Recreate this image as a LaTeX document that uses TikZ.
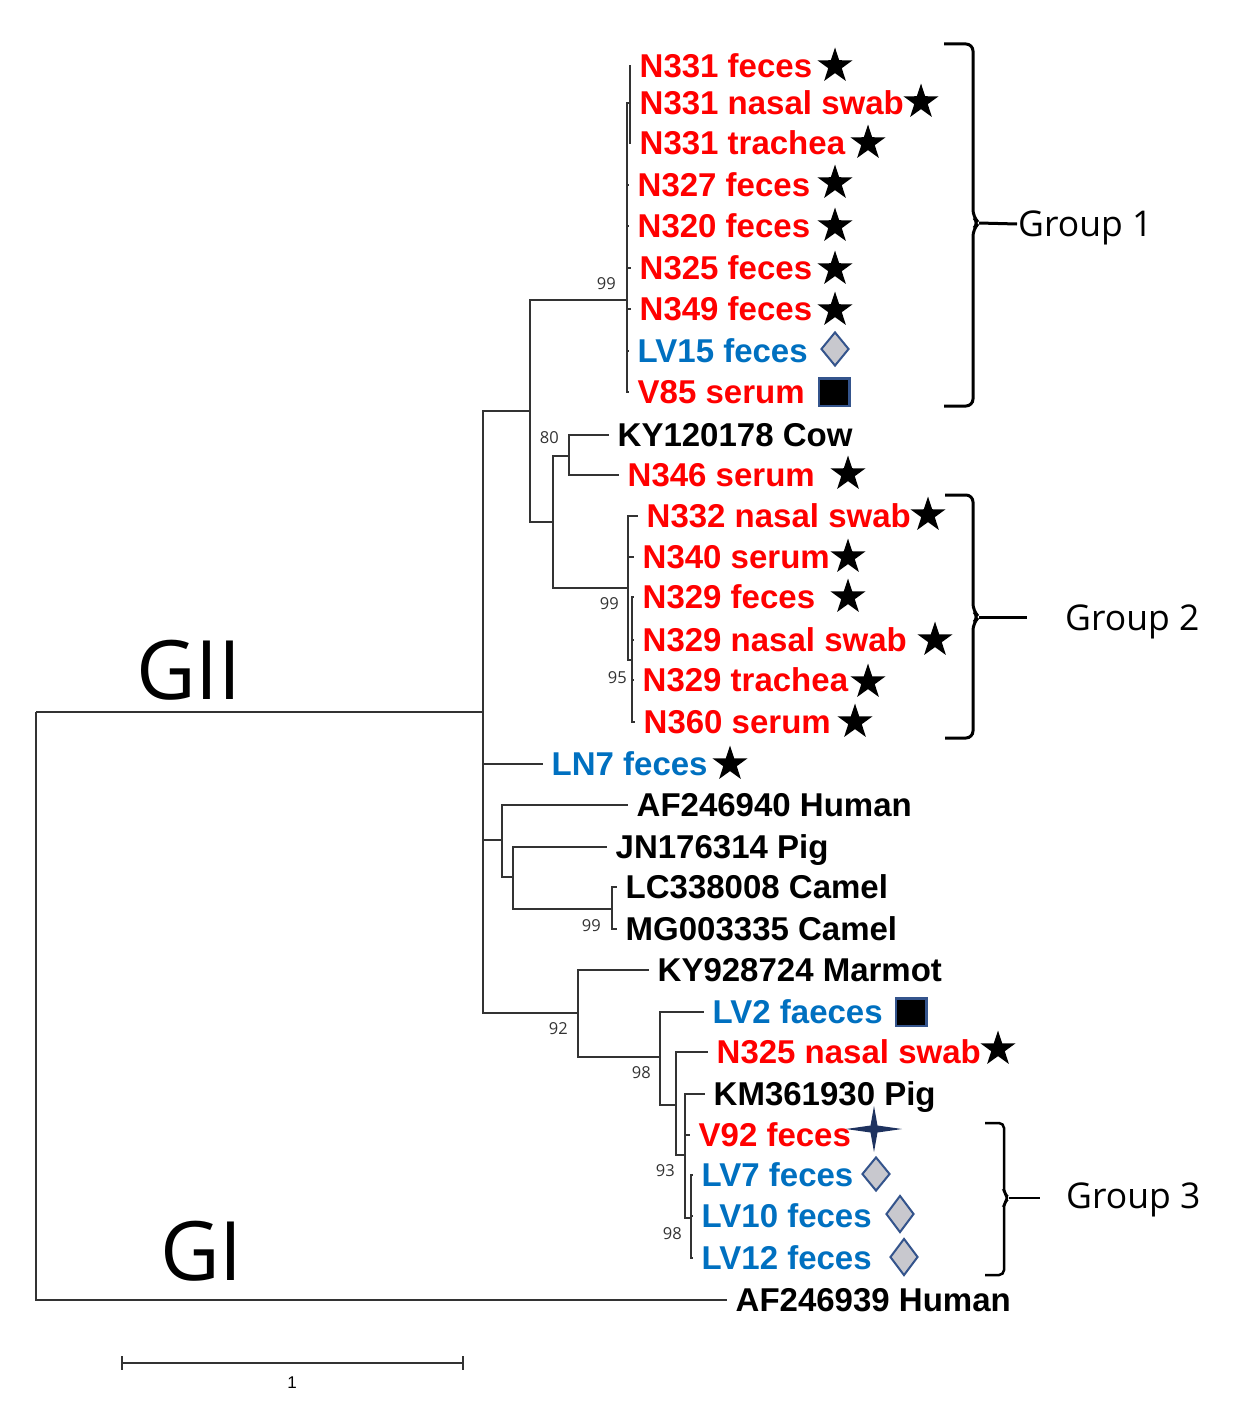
\documentclass[tikz,border=0pt]{standalone}
\usepackage{fontspec}
\setmainfont{Liberation Sans}
\newfontfamily\grpfont{Open Sans}
\usetikzlibrary{positioning,shapes.geometric}
\definecolor{labred}{RGB}{255,0,0}
\definecolor{labblue}{RGB}{0,112,192}
\definecolor{markblue}{RGB}{52,84,140}
\definecolor{markgray}{RGB}{200,200,206}
\definecolor{navy}{RGB}{30,50,95}

\begin{document}
\begin{tikzpicture}[x=1pt,y=-1pt,
  branch/.style={line width=1.4pt, black!80},
  leaf/.style={anchor=west, font=\fontsize{33}{33}\selectfont\bfseries, inner xsep=8.5pt, inner ysep=0pt, text height=23.6pt, text depth=0pt},
  boot/.style={font=\grpfont\fontsize{16.5}{16.5}\selectfont, text=black!80, inner sep=1pt},
  mstar/.style={star, star points=5, star point ratio=2.6, fill=black, inner sep=0pt, minimum size=37pt},
  mdiam/.style={diamond, draw=markblue, fill=markgray, line width=2pt, inner sep=0pt, minimum width=28pt, minimum height=34pt},
  msq/.style={rectangle, draw=markblue, fill=black, line width=2.5pt, inner sep=0pt, minimum width=30.5pt, minimum height=27.5pt},
  brk/.style={line width=3pt, rounded corners=7pt},
  grp/.style={anchor=west, font=\grpfont\fontsize{35.5}{35.5}\selectfont, inner xsep=1pt, inner ysep=0pt, text height=25pt, text depth=0pt}
]
\useasboundingbox (0,0) rectangle (1235,1405);

% internal nodes of the tree
\coordinate (root) at (36,712);
\coordinate (nGII) at (483,712);
\coordinate (nA) at (530,411);
\coordinate (nG1) at (627,300);
\coordinate (nN331) at (630,103);
\coordinate (nB) at (553,522);
\coordinate (nC) at (569,456);
\coordinate (nG2) at (628,588);
\coordinate (nG2b) at (632,660);
\coordinate (nD) at (502,840);
\coordinate (nE) at (513,877);
\coordinate (nF) at (612,909);
\coordinate (nH) at (578,1013);
\coordinate (nI) at (660,1057);
\coordinate (nJ) at (676,1105);
\coordinate (nK) at (685,1155);
\coordinate (nL) at (691,1218);

% Group 1 leaves
\node[leaf, text=labred] (n331fec) at (631,66) {N331 feces};
\node[leaf, text=labred] (n331nas) at (631,103) {N331 nasal swab};
\node[leaf, text=labred] (n331tra) at (631,143) {N331 trachea};
\node[leaf, text=labred] (n327fec) at (629,185) {N327 feces};
\node[leaf, text=labred] (n320fec) at (629,226) {N320 feces};
\node[leaf, text=labred] (n325fec) at (631,268) {N325 feces};
\node[leaf, text=labred] (n349fec) at (631,309) {N349 feces};
\node[leaf, text=labblue] (lv15fec) at (629,351) {LV15 feces};
\node[leaf, text=labred] (v85ser) at (629,392) {V85 serum};

% middle leaves
\node[leaf] (ky120178) at (609,435) {KY120178 Cow};
\node[leaf, text=labred] (n346ser) at (619,475) {N346 serum};
\node[leaf, text=labred] (n332nas) at (638,516) {N332 nasal swab};
\node[leaf, text=labred] (n340ser) at (634,557) {N340 serum};
\node[leaf, text=labred] (n329fec) at (634,597) {N329 feces};
\node[leaf, text=labred] (n329nas) at (634,640) {N329 nasal swab};
\node[leaf, text=labred] (n329tra) at (634,680) {N329 trachea};
\node[leaf, text=labred] (n360ser) at (635,722) {N360 serum};
\node[leaf, text=labblue] (ln7fec) at (543,764) {LN7 feces};
\node[leaf] (af246940) at (628,805) {AF246940 Human};
\node[leaf] (jn176314) at (607,847) {JN176314 Pig};
\node[leaf] (lc338008) at (617,887) {LC338008 Camel};
\node[leaf] (mg003335) at (617,929) {MG003335 Camel};

% lower leaves
\node[leaf] (ky928724) at (649,970) {KY928724 Marmot};
\node[leaf, text=labblue] (lv2fae) at (704,1012) {LV2 faeces};
\node[leaf, text=labred] (n325nas) at (708,1052) {N325 nasal swab};
\node[leaf] (km361930) at (705,1094) {KM361930 Pig};
\node[leaf, text=labred] (v92fec) at (690,1135) {V92 feces};
\node[leaf, text=labblue] (lv7fec) at (693,1175) {LV7 feces};
\node[leaf, text=labblue] (lv10fec) at (693,1216) {LV10 feces};
\node[leaf, text=labblue] (lv12fec) at (693,1258) {LV12 feces};
\node[leaf] (af246939) at (727,1300) {AF246939 Human};

% branches
\draw[branch] (root) -- (nGII);
\draw[branch] (root) |- (af246939.west);
\draw[branch] (nGII) |- (nA);
\draw[branch] (nGII) |- (ln7fec.west);
\draw[branch] (nGII) |- (nD);
\draw[branch] (nGII) |- (nH);
\draw[branch] (nA) |- (nG1);
\draw[branch] (nA) |- (nB);
\draw[branch] (nG1) |- (nN331);
\draw[branch] (nN331) |- (n331fec.west);
\draw[branch] (nN331) |- (n331nas.west);
\draw[branch] (nN331) |- (n331tra.west);
\draw[branch] (nG1) |- (n327fec.west);
\draw[branch] (nG1) |- (n320fec.west);
\draw[branch] (nG1) |- (n325fec.west);
\draw[branch] (nG1) |- (n349fec.west);
\draw[branch] (nG1) |- (lv15fec.west);
\draw[branch] (nG1) |- (v85ser.west);
\draw[branch] (nB) |- (nC);
\draw[branch] (nB) |- (nG2);
\draw[branch] (nC) |- (ky120178.west);
\draw[branch] (nC) |- (n346ser.west);
\draw[branch] (nG2) |- (n332nas.west);
\draw[branch] (nG2) |- (n340ser.west);
\draw[branch] (nG2) |- (nG2b);
\draw[branch] (nG2b) |- (n329fec.west);
\draw[branch] (nG2b) |- (n329nas.west);
\draw[branch] (nG2b) |- (n329tra.west);
\draw[branch] (nG2b) |- (n360ser.west);
\draw[branch] (nD) |- (af246940.west);
\draw[branch] (nD) |- (nE);
\draw[branch] (nE) |- (jn176314.west);
\draw[branch] (nE) |- (nF);
\draw[branch] (nF) |- (lc338008.west);
\draw[branch] (nF) |- (mg003335.west);
\draw[branch] (nH) |- (ky928724.west);
\draw[branch] (nH) |- (nI);
\draw[branch] (nI) |- (lv2fae.west);
\draw[branch] (nI) |- (nJ);
\draw[branch] (nJ) |- (n325nas.west);
\draw[branch] (nJ) |- (nK);
\draw[branch] (nK) |- (km361930.west);
\draw[branch] (nK) |- (v92fec.west);
\draw[branch] (nK) |- (nL);
\draw[branch] (nL) |- (lv7fec.west);
\draw[branch] (nL) |- (lv10fec.west);
\draw[branch] (nL) |- (lv12fec.west);

% bootstrap values
\node[boot, above left=9pt and 10pt of nG1] (bs1) {99};
\node[boot, above left=11pt and 9pt of nC] (bs2) {80};
\node[boot, below left=8pt and 8pt of nG2] (bs3) {99};
\node[boot, below left=10pt and 4pt of nG2b] (bs4) {95};
\node[boot, below left=9pt and 10pt of nF] (bs5) {99};
\node[boot, below left=8pt and 9pt of nH] (bs6) {92};
\node[boot, below left=8pt and 8pt of nI] (bs7) {98};
\node[boot, below left=8pt and 9pt of nK] (bs8) {93};
\node[boot, below left=8pt and 8pt of nL] (bs9) {98};

% markers
\node[mstar] (m1) at (835,66) {};
\node[mstar] (m2) at (921,102) {};
\node[mstar] (m3) at (868,143) {};
\node[mstar] (m4) at (835,183) {};
\node[mstar] (m5) at (835,226) {};
\node[mstar] (m6) at (835,269) {};
\node[mstar] (m7) at (835,310) {};
\node[mdiam] (m8) at (835,349) {};
\node[msq] (m9) at (834,392) {};
\node[mstar] (m10) at (848,474) {};
\node[mstar] (m11) at (928,515) {};
\node[mstar] (m12) at (848,557) {};
\node[mstar] (m13) at (848,597) {};
\node[mstar] (m14) at (935,640) {};
\node[mstar] (m15) at (868,682) {};
\node[mstar] (m16) at (855,722) {};
\node[mstar] (m17) at (730,764) {};
\node[msq] (m18) at (911,1012) {};
\node[mstar] (m19) at (998,1049) {};
\node[mdiam] (m20) at (876,1174) {};
\node[mdiam, minimum height=37pt] (m21) at (900,1214) {};
\node[mdiam, minimum height=37pt] (m22) at (904,1257) {};
\coordinate (m23) at (874,1129);
\begin{scope}[shift={(m23)}]
\fill[navy] (-28,0) -- (-3.5,-3.5) -- (0,-23) -- (3.5,-3.5) -- (28,0) -- (3.5,3.5) -- (0,23) -- (-3.5,3.5) -- cycle;
\end{scope}

% group brackets
\coordinate (g1tip) at (979,223);
\draw[brk] (944,44) -- (973,44) -- (973,217) -- (g1tip) -- (973,229) -- (973,406) -- (944,406);
\node[grp] (grp1) at (1017,224) {Group 1};
\draw[line width=3pt] (g1tip) -- (grp1.west);

\coordinate (g2tip) at (979,617);
\coordinate (g2end) at (1027,617);
\draw[brk] (945,495) -- (973,495) -- (973,611) -- (g2tip) -- (973,623) -- (973,738) -- (945,738);
\draw[line width=3pt] (g2tip) -- (g2end);
\node[grp] (grp2) at (1064,618) {Group 2};

\coordinate (g3tip) at (1009,1198);
\coordinate (g3end) at (1040,1198);
\draw[brk, line width=2.5pt, rounded corners=5pt] (985,1123) -- (1004,1123) -- (1004,1193) -- (g3tip) -- (1004,1203) -- (1004,1275) -- (985,1275);
\draw[line width=2.5pt] (g3tip) -- (g3end);
\node[grp] (grp3) at (1065,1196) {Group 3};

% genogroup labels
\node[anchor=west, inner sep=0pt, font=\grpfont\fontsize{82}{82}\selectfont] (gii) at (136,670) {GII};
\node[anchor=west, inner sep=0pt, font=\grpfont\fontsize{82}{82}\selectfont] (gi) at (160,1251) {GI};

% scale bar
\coordinate (sbl) at (122,1363);
\coordinate (sbr) at (463,1363);
\draw[branch, line width=1.6pt] (sbl) -- (sbr);
\draw[branch, line width=1.6pt] (sbl) ++(0,-7) -- ++(0,14);
\draw[branch, line width=1.6pt] (sbr) ++(0,-7) -- ++(0,14);
\node[font=\fontsize{17}{17}\selectfont, inner sep=0pt] (sblab) at (292,1383) {1};
\end{tikzpicture}
\end{document}
